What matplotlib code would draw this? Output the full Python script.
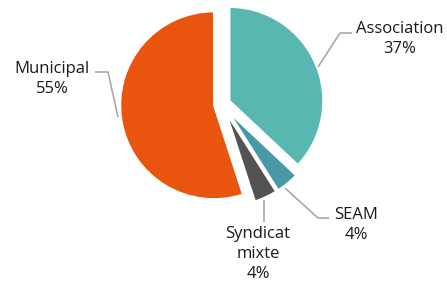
import matplotlib
matplotlib.use("Agg")
import matplotlib.pyplot as plt

categories = ["Association", "SEAM", "Syndicat\nmixte", "Municipal"]
values = [37, 4, 4, 55]
colors = ["#58B7B1", "#4898A8", "#535353", "#E9540F"]

W, H = 447, 284
fig = plt.figure(figsize=(W / 100, H / 100), dpi=100)
ax = fig.add_axes([0, 0, 1, 1])

cx, cy, r = 222, 284 - 104, 94
ax.pie(values, colors=colors, startangle=90, counterclock=False,
       center=(cx, cy), radius=r, explode=[8, 9, 9, 8],
       wedgeprops=dict(edgecolor="white", linewidth=1.6), frame=True)
ax.set_xlim(0, W)
ax.set_ylim(0, H)
ax.set_aspect("equal")
ax.axis("off")

def Y(y):
    return H - y

lc = "#A8A8A8"
# leader lines (layout)
leaders = [
    [(318, 67), (340, 33), (352, 33)],
    [(285, 188), (318, 218), (329, 218)],
    [(264, 200), (264, 222)],
    [(118, 117), (108, 72), (95, 72)],
]
for pts in leaders:
    ax.plot([p[0] for p in pts], [Y(p[1]) for p in pts], color=lc, lw=1.2,
            solid_capstyle="butt")

label_pos = [(400, 39), (356, 225), (258, 254), (52, 79)]
for cat, v, (x, y) in zip(categories, values, label_pos):
    ax.text(x, Y(y), f"{cat}\n{v}%", ha="center", va="center",
            fontsize=12, family="Open Sans", color="#1a1a1a",
            linespacing=1.35)

fig.savefig("out.png", dpi=100)
